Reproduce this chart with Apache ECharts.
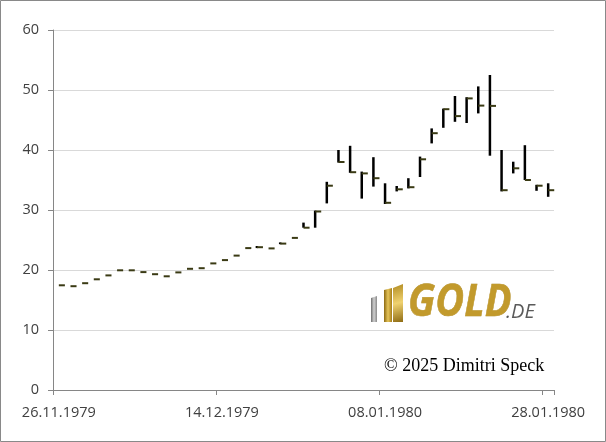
<!DOCTYPE html>
<html><head><meta charset="utf-8">
<script src="https://cdn.jsdelivr.net/npm/echarts@6/dist/echarts.min.js"></script>
<style>html,body{margin:0;padding:0;background:#fff}#c{width:606px;height:442px}</style>
</head><body><div id="c"></div>
<script>
var dates = ['26.11.1979','27.11.1979','28.11.1979','29.11.1979','30.11.1979',
 '03.12.1979','04.12.1979','05.12.1979','06.12.1979','07.12.1979',
 '10.12.1979','11.12.1979','12.12.1979','13.12.1979','14.12.1979',
 '17.12.1979','18.12.1979','19.12.1979','20.12.1979','21.12.1979',
 '24.12.1979','27.12.1979','28.12.1979','31.12.1979',
 '02.01.1980','03.01.1980','04.01.1980','07.01.1980','08.01.1980',
 '09.01.1980','10.01.1980','11.01.1980',
 '14.01.1980','15.01.1980','16.01.1980','17.01.1980','18.01.1980',
 '21.01.1980','22.01.1980','23.01.1980','24.01.1980','25.01.1980','28.01.1980'];
var closeVals = [17.45,17.3,17.8,18.45,19.1,19.95,19.95,19.65,19.3,18.95,
 19.6,20.2,20.3,21.1,21.65,22.4,23.65,23.8,23.6,24.4,
 25.35,27.05,29.75,34.05,38.0,36.3,36.1,35.3,31.2,33.45,
 33.8,38.45,42.8,46.8,45.65,48.6,47.4,47.35,33.3,36.95,
 35.0,34.05,33.3];
var highVals = [17.45,17.3,17.8,18.45,19.1,19.95,19.95,19.65,19.3,18.95,
 19.6,20.2,20.3,21.1,21.65,22.4,23.65,24.0,23.6,24.6,
 25.35,27.9,29.9,34.7,40.0,40.7,36.4,38.8,34.45,34.0,
 35.3,38.9,43.6,46.9,49.0,48.8,50.6,52.5,40.0,38.05,
 40.8,34.2,34.45];
var lowVals = [17.45,17.3,17.8,18.45,19.1,19.95,19.95,19.65,19.3,18.95,
 19.6,20.2,20.3,21.1,21.65,22.4,23.65,23.65,23.6,24.3,
 25.35,27.05,27.05,31.1,37.9,36.2,31.9,33.9,31.0,33.1,
 33.6,35.5,41.1,43.7,44.7,44.5,46.1,39.05,33.1,36.1,
 35.0,33.2,32.2];
var yTicks = [0,10,20,30,40,50,60];

var seriesData = dates.map(function(d,i){ return [i, highVals[i], lowVals[i], closeVals[i]]; });

var chart = echarts.init(document.getElementById('c'), null, {renderer:'canvas'});
chart.setOption({
  animation:false,
  backgroundColor:'#fff',
  grid:{left:53,right:52,top:30,bottom:52},
  xAxis:{
    type:'category', data:dates, boundaryGap:true,
    axisLine:{lineStyle:{color:'#868686',width:1}},
    axisTick:{show:true,length:5,lineStyle:{color:'#868686'},interval:13},
    axisLabel:{interval:13,color:'#404040',fontFamily:'Open Sans',fontSize:14.5,margin:15},
    splitLine:{show:false}
  },
  yAxis:{
    type:'value', min:yTicks[0], max:yTicks[yTicks.length-1], interval:10,
    axisLine:{show:true,lineStyle:{color:'#868686'}},
    axisTick:{show:true,length:5,lineStyle:{color:'#868686'}},
    axisLabel:{color:'#404040',fontFamily:'Open Sans',fontSize:14.5,margin:14},
    splitLine:{lineStyle:{color:'#d9d9d9'}}
  },
  series:[{
    type:'custom',
    data:seriesData,
    encode:{x:0,y:[1,2,3]},
    renderItem:function(params, api){
      var x = api.value(0);
      var hi = api.coord([x, api.value(1)]);
      var lo = api.coord([x, api.value(2)]);
      var cl = api.coord([x, api.value(3)]);
      var bw = api.size([1,0])[0];
      var children = [];
      if (lo[1]-hi[1] > 0.5) {
        children.push({type:'line',shape:{x1:hi[0],y1:hi[1],x2:lo[0],y2:lo[1]},style:{stroke:'#000',lineWidth:2.5}});
      }
      children.push({type:'line',shape:{x1:cl[0],y1:cl[1],x2:cl[0]+bw*0.52,y2:cl[1]},style:{stroke:'#3a3a14',lineWidth:2}});
      return {type:'group',children:children};
    }
  }],
  graphic:[
    {type:'rect',shape:{x:0.5,y:0.5,width:605,height:441},style:{fill:null,stroke:'#898989',lineWidth:1},silent:true,z:100},
    {type:'polygon',shape:{points:[[371,298],[377,296],[377,322],[371,322]]},
      style:{fill:new echarts.graphic.LinearGradient(0,0,1,0,[{offset:0,color:'#6e6e6e'},{offset:0.5,color:'#d0d0d0'},{offset:1,color:'#8a8a8a'}])}},
    {type:'polygon',shape:{points:[[384,290],[392,288],[392,322],[384,322]]},
      style:{fill:new echarts.graphic.LinearGradient(0,0,1,0,[{offset:0,color:'#8c6a12'},{offset:0.5,color:'#e5c45a'},{offset:1,color:'#a47c18'}])}},
    {type:'polygon',shape:{points:[[393,288],[403,284],[403,322],[393,322]]},
      style:{fill:new echarts.graphic.LinearGradient(0,0,1,1,[{offset:0,color:'#b08a20'},{offset:0.5,color:'#f0d270'},{offset:1,color:'#8f6c14'}])}},
    {type:'text',x:408,y:281,scaleX:0.88,
      style:{text:'GOLD',font:'italic bold 45px "Open Sans"',fill:'#c29a2c',stroke:'#a88218',lineWidth:0.5}},
    {type:'text',x:506,y:302,
      style:{text:'.DE',font:'italic 20px "Open Sans"',fill:'#5a5a5a'}},
    {type:'text',x:384,y:357,
      style:{text:'© 2025 Dimitri Speck',font:'18px "Liberation Serif"',fill:'#000'}}
  ]
});
</script></body></html>
